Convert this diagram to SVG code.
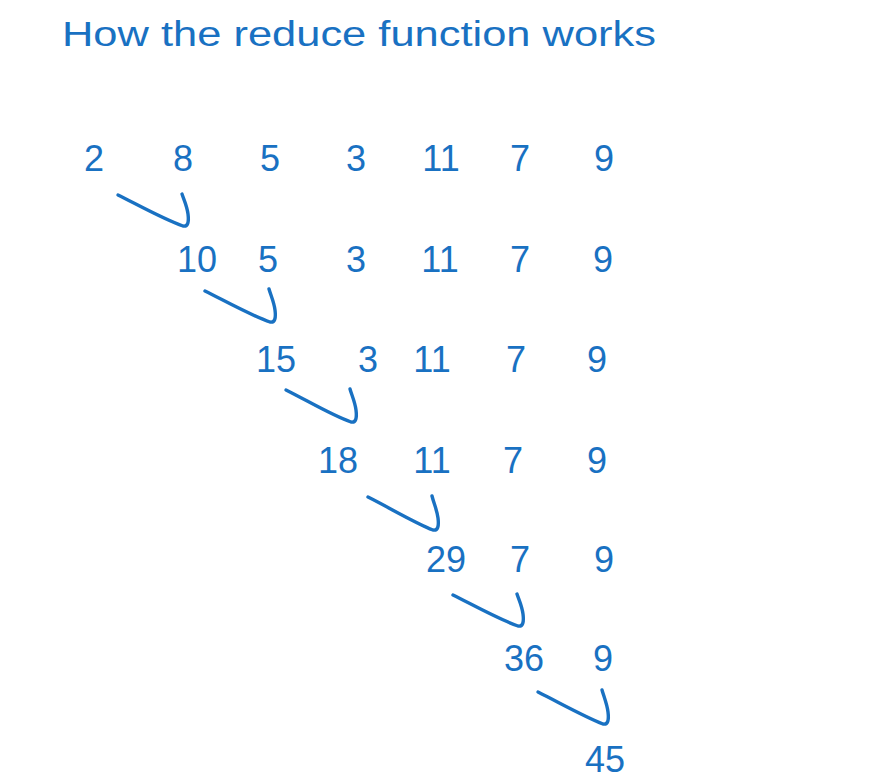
<svg xmlns="http://www.w3.org/2000/svg" width="893" height="781" viewBox="0 0 893 781">
<style>
text{font-family:"Liberation Sans","DejaVu Sans",sans-serif;fill:#1971c2}
.n{font-size:36px;text-anchor:middle}
.t{font-size:35px}
.c path{fill:none;stroke:#1971c2;stroke-width:3.4;stroke-linecap:round;stroke-linejoin:round}
</style>
<rect width="893" height="781" fill="#ffffff"/>
<g id="title"><text class="t" x="62" y="46" textLength="594" lengthAdjust="spacingAndGlyphs">How the reduce function works</text></g>
<g id="row1">
<text class="n" x="94" y="171">2</text><text class="n" x="183" y="171">8</text><text class="n" x="270" y="171">5</text><text class="n" x="356" y="171">3</text><text class="n" x="441" y="171">11</text><text class="n" x="520" y="171">7</text><text class="n" x="604" y="171">9</text>
</g>
<g id="row2">
<text class="n" x="197" y="272">10</text><text class="n" x="268" y="272">5</text><text class="n" x="356" y="272">3</text><text class="n" x="440" y="272">11</text><text class="n" x="520" y="272">7</text><text class="n" x="603" y="272">9</text>
</g>
<g id="row3">
<text class="n" x="276" y="372">15</text><text class="n" x="368" y="372">3</text><text class="n" x="432" y="372">11</text><text class="n" x="516" y="372">7</text><text class="n" x="597" y="372">9</text>
</g>
<g id="row4">
<text class="n" x="338" y="473">18</text><text class="n" x="432" y="473">11</text><text class="n" x="513" y="473">7</text><text class="n" x="597" y="473">9</text>
</g>
<g id="row5">
<text class="n" x="446" y="572">29</text><text class="n" x="520" y="572">7</text><text class="n" x="604" y="572">9</text>
</g>
<g id="row6">
<text class="n" x="524" y="671">36</text><text class="n" x="603" y="671">9</text>
</g>
<g id="row7">
<text class="n" x="605" y="772">45</text>
</g>
<g id="connectors" class="c">
<path d="M118,195 C140,206 165,220 183,226 C188,227 189,222 188,214 C187,206 184,200 182,194"/>
<path d="M205,291 C227,302 252,316 270,322 C275,323 276,318 275,310 C274,302 271,296 269,289"/>
<path d="M286,390 C308,401 333,416 351,422 C356,423 357,418 356,410 C355,402 352,396 350,389"/>
<path d="M368,497 C390,508 415,523 433,530 C438,531 439,526 438,518 C437,510 434,504 432,496"/>
<path d="M453,595 C475,606 500,620 518,626 C523,627 524,622 523,614 C522,606 519,600 517,594"/>
<path d="M538,692 C560,703 585,717 603,724 C608,725 609,720 608,712 C607,704 604,697 602,690"/>
</g>
</svg>
